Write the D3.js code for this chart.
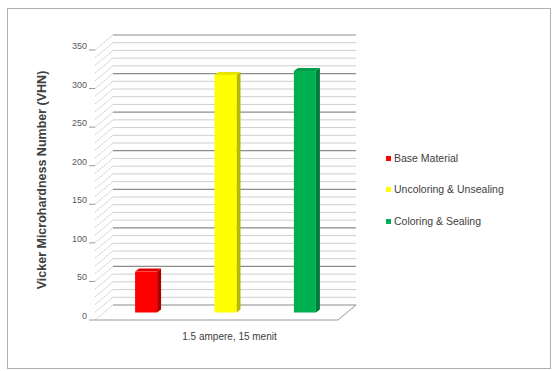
<!DOCTYPE html>
<html>
<head>
<meta charset="utf-8">
<script src="https://cdn.jsdelivr.net/npm/d3@7"></script>
<style>
  body { margin: 0; background: #fff; }
  text { font-family: "Liberation Sans", Arial, sans-serif; }
</style>
</head>
<body>
<svg width="555" height="371"></svg>
<script>
// data
var series = ["Base Material", "Uncoloring & Unsealing", "Coloring & Sealing"];
var values = [53, 308, 313];
var colors = ["#ff0000", "#ffff00", "#00b050"];
var sideColors = ["#b00000", "#b8b800", "#007a36"];
var category = "1.5 ampere, 15 menit";
var yTicks = [0, 50, 100, 150, 200, 250, 300, 350];

var svg = d3.select("svg"),
    width = +svg.attr("width"),
    height = +svg.attr("height");

// chart frame
svg.append("rect")
    .attr("x", 7.5).attr("y", 8.5)
    .attr("width", 543).attr("height", 360)
    .attr("fill", "#fff")
    .attr("stroke", "#b0b0b0");

var depthX = 18, depthY = -15;   // 3d depth of the plot box
var x0 = 95, x1 = 338;

var y = d3.scaleLinear().domain([0, 350]).range([320, 50]);
var x = d3.scalePoint().domain(series).range([x0, x1]).padding(0.53);

// gridlines on back wall + side wall
var grid = svg.append("g");
d3.range(0, 351, 10).forEach(v => {
    var major = v % 50 == 0;
    grid.append("line")
        .attr("x1", x0 + depthX).attr("x2", x1 + depthX)
        .attr("y1", y(v) + depthY).attr("y2", y(v) + depthY)
        .attr("stroke", major ? "#8c8c8c" : "#cfcfcf")
        .attr("stroke-width", major ? 1.2 : 1);
    grid.append("line")
        .attr("x1", x0).attr("x2", x0 + depthX)
        .attr("y1", y(v)).attr("y2", y(v) + depthY)
        .attr("stroke", "#c8c8c8")
        .attr("stroke-dasharray", "2,1");
});

// floor
svg.append("path")
    .attr("d", d3.line()([[x0, y(0)], [x1, y(0)], [x1 + depthX, y(0) + depthY]]))
    .attr("fill", "none")
    .attr("stroke", "#9a9a9a");
svg.append("line")
    .attr("x1", x1 + 2).attr("x2", x1 + depthX - 2)
    .attr("y1", y(0) - 2).attr("y2", y(0) + depthY + 2)
    .attr("stroke", "#bbb").attr("stroke-dasharray", "2,1");

// y axis ticks and labels
var yAxis = svg.append("g");
yTicks.forEach(v => {
    yAxis.append("line")
        .attr("x1", x0 - 6).attr("x2", x0)
        .attr("y1", y(v)).attr("y2", y(v))
        .attr("stroke", "#999");
    yAxis.append("text")
        .attr("x", x0 - 8).attr("y", y(v) - 1)
        .attr("text-anchor", "end")
        .attr("font-size", 9)
        .attr("fill", "#595959")
        .text(v);
});

// bars (placed at half depth)
var bw = 22, bd = 4, bdy = -3;
var hx = depthX / 2, hy = depthY / 2;
var bars = svg.append("g");
series.forEach((s, i) => {
    var left = x(s) + hx - bw / 2;
    var top = y(values[i]) + hy;
    var bottom = y(0) + hy;
    // side face
    bars.append("path")
        .attr("d", d3.line()([[left + bw, top], [left + bw + bd, top + bdy],
            [left + bw + bd, bottom + bdy], [left + bw, bottom]]) + "Z")
        .attr("fill", sideColors[i]);
    // top face
    bars.append("path")
        .attr("d", d3.line()([[left, top], [left + bd, top + bdy],
            [left + bw + bd, top + bdy], [left + bw, top]]) + "Z")
        .attr("fill", d3.color(colors[i]).darker(0.3));
    // front face
    bars.append("rect")
        .attr("x", left).attr("y", top)
        .attr("width", bw).attr("height", bottom - top)
        .attr("fill", colors[i]);
});

// category label
svg.append("text")
    .attr("x", (x0 + x1) / 2 + hx + 4)
    .attr("y", 340)
    .attr("text-anchor", "middle")
    .attr("font-size", 10)
    .attr("fill", "#404040")
    .text(category);

// y axis title
svg.append("text")
    .attr("transform", "translate(46,180) rotate(-90)")
    .attr("text-anchor", "middle")
    .attr("font-size", 12.5)
    .attr("font-weight", "bold")
    .attr("fill", "#404040")
    .text("Vicker Microhardness Number (VHN)");

// legend
var legend = svg.append("g");
var legendY = [159, 190, 222];
series.forEach((s, i) => {
    legend.append("rect")
        .attr("x", 386).attr("y", legendY[i] - 3)
        .attr("width", 5).attr("height", 5)
        .attr("fill", colors[i]);
    legend.append("text")
        .attr("x", 394).attr("y", legendY[i] + 3)
        .attr("font-size", 10.5)
        .attr("fill", "#404040")
        .text(s);
});
</script>
</body>
</html>
